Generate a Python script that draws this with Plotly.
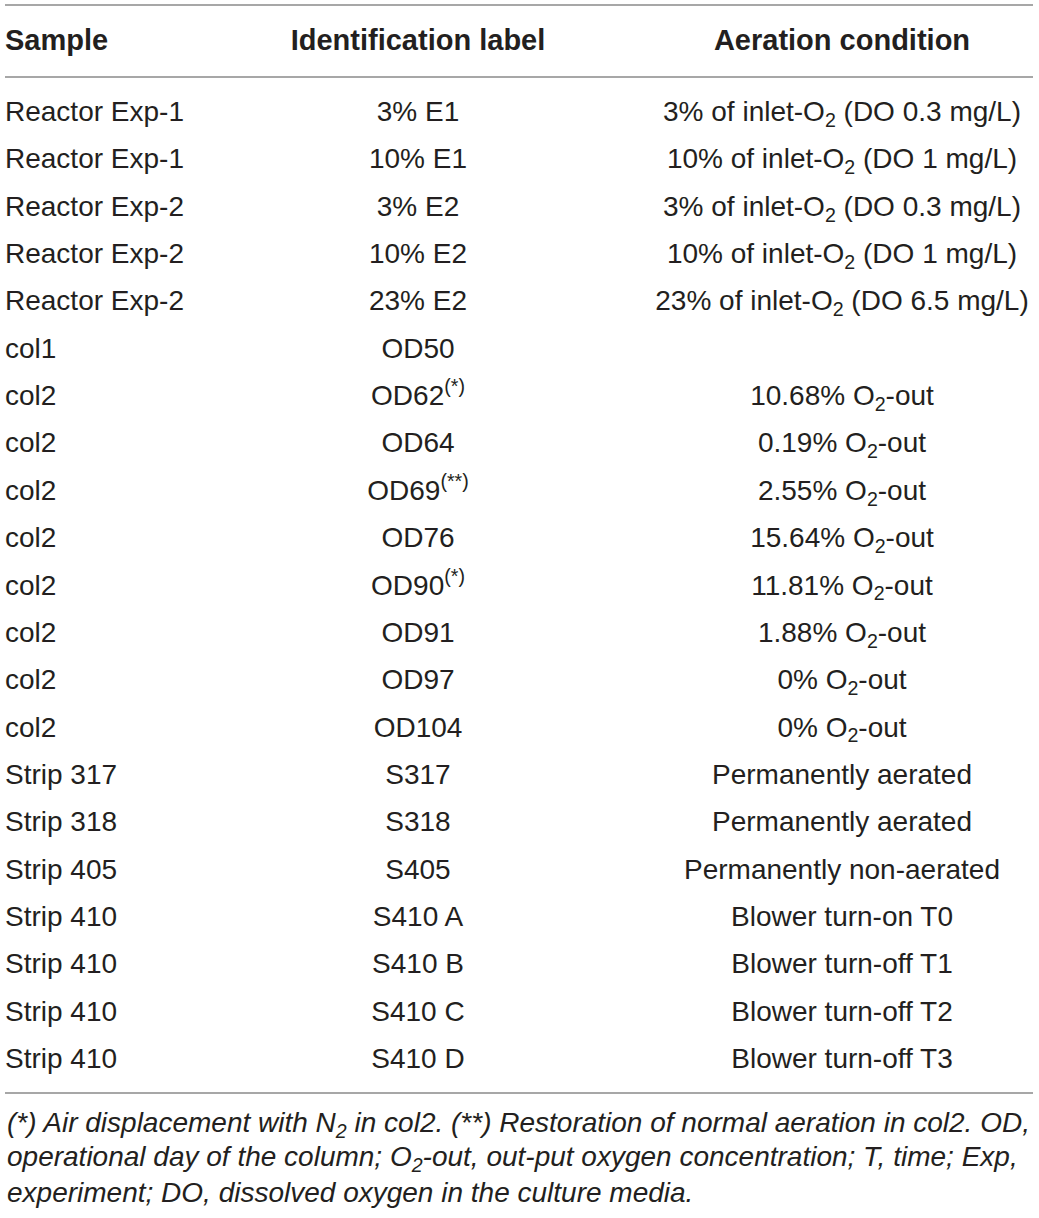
import plotly.graph_objects as go

# --------------------------------------------------------------------------
# Dados da tabela
# --------------------------------------------------------------------------
headers = ["Sample", "Identification label", "Aeration condition"]

samples = [
    "Reactor Exp-1", "Reactor Exp-1", "Reactor Exp-2", "Reactor Exp-2",
    "Reactor Exp-2", "col1", "col2", "col2", "col2", "col2", "col2", "col2",
    "col2", "col2", "Strip 317", "Strip 318", "Strip 405", "Strip 410",
    "Strip 410", "Strip 410", "Strip 410",
]

labels = [
    "3% E1", "10% E1", "3% E2", "10% E2", "23% E2", "OD50",
    "OD62<sup>(*)</sup>", "OD64", "OD69<sup>(**)</sup>", "OD76",
    "OD90<sup>(*)</sup>", "OD91", "OD97", "OD104", "S317", "S318", "S405",
    "S410 A", "S410 B", "S410 C", "S410 D",
]

conditions = [
    "3% of inlet-O<sub>2</sub> (DO 0.3 mg/L)",
    "10% of inlet-O<sub>2</sub> (DO 1 mg/L)",
    "3% of inlet-O<sub>2</sub> (DO 0.3 mg/L)",
    "10% of inlet-O<sub>2</sub> (DO 1 mg/L)",
    "23% of inlet-O<sub>2</sub> (DO 6.5 mg/L)",
    "",
    "10.68% O<sub>2</sub>-out",
    "0.19% O<sub>2</sub>-out",
    "2.55% O<sub>2</sub>-out",
    "15.64% O<sub>2</sub>-out",
    "11.81% O<sub>2</sub>-out",
    "1.88% O<sub>2</sub>-out",
    "0% O<sub>2</sub>-out",
    "0% O<sub>2</sub>-out",
    "Permanently aerated",
    "Permanently aerated",
    "Permanently non-aerated",
    "Blower turn-on T0",
    "Blower turn-off T1",
    "Blower turn-off T2",
    "Blower turn-off T3",
]

footnote = [
    "(*) Air displacement with N<sub>2</sub> in col2. (**) Restoration of "
    "normal aeration in col2. OD,",
    "operational day of the column; O<sub>2</sub>-out, out-put oxygen "
    "concentration; T, time; Exp,",
    "experiment; DO, dissolved oxygen in the culture media.",
]

# --------------------------------------------------------------------------
# Layout (em pixels: eixo x 0..W, eixo y 0..H invertido)
# --------------------------------------------------------------------------
W, H = 1039, 1218
FONT = "Liberation Sans, Arial, sans-serif"
INK = "#231f20"
RULE = "#8a8a8a"

col_x = [5, 418, 842]
header_y = 43
row0_y, row_step = 114, 47.35
rule_ys = [5, 77, 1093]
foot_y0, foot_step = 1124, 34

row_y = [row0_y + i * row_step for i in range(len(samples))]

fig = go.Figure()

# cabeçalho
fig.add_trace(go.Scatter(
    x=col_x, y=[header_y] * 3,
    text=[f"<b>{h}</b>" for h in headers],
    mode="text",
    textposition=["middle right", "middle center", "middle center"],
    textfont=dict(family=FONT, size=29, color=INK),
    hoverinfo="skip", showlegend=False,
))

# corpo: uma coluna por trace
for x, vals, pos in ((col_x[0], samples, "middle right"),
                     (col_x[1], labels, "middle center"),
                     (col_x[2], conditions, "middle center")):
    fig.add_trace(go.Scatter(
        x=[x] * len(vals), y=row_y, text=vals,
        mode="text", textposition=pos,
        textfont=dict(family=FONT, size=28, color=INK),
        hoverinfo="skip", showlegend=False,
    ))

# linhas horizontais
for y in rule_ys:
    fig.add_shape(type="line", x0=5, x1=1033, y0=y, y1=y,
                  line=dict(color=RULE, width=1.5), layer="below")

# nota de rodapé em itálico
for i, line in enumerate(footnote):
    fig.add_annotation(
        x=5, y=foot_y0 + i * foot_step, text=f"<i>{line}</i>",
        xanchor="left", yanchor="middle", showarrow=False, align="left",
        font=dict(family=FONT, size=28, color=INK),
    )

fig.update_layout(
    width=W, height=H,
    margin=dict(l=0, r=0, t=0, b=0),
    paper_bgcolor="white", plot_bgcolor="white",
    xaxis=dict(range=[0, W], visible=False, fixedrange=True),
    yaxis=dict(range=[H, 0], visible=False, fixedrange=True),
)

fig.write_html("out.html", config={"displayModeBar": False},
               post_script="document.body.style.margin='0';")
